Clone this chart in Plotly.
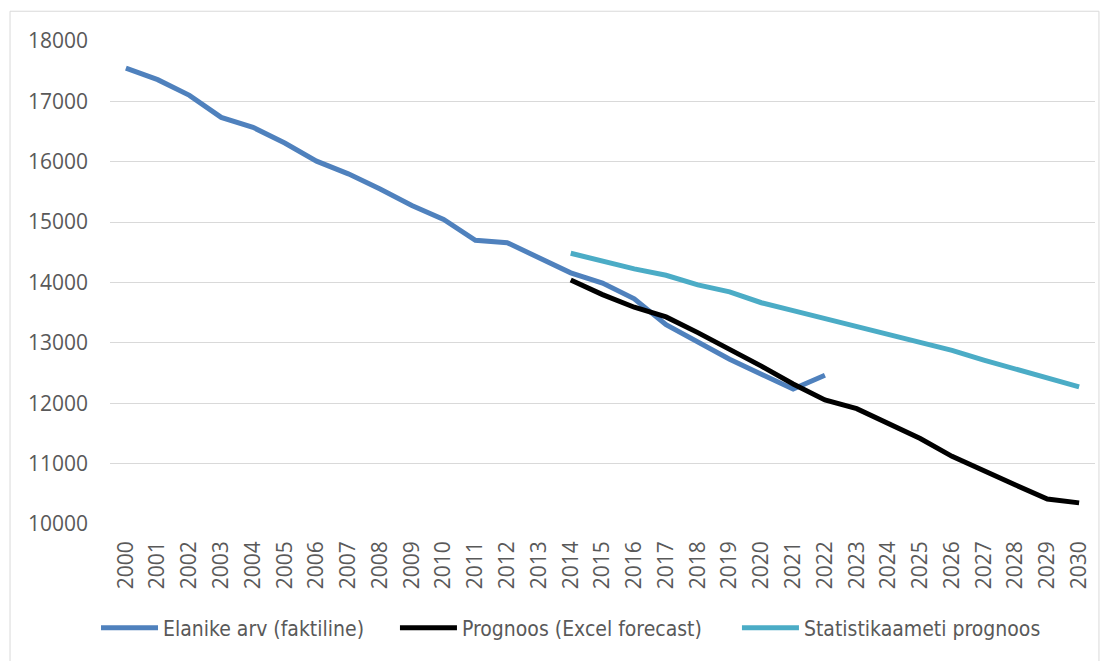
import plotly.graph_objects as go

years = [str(y) for y in range(2000, 2031)]

actual_years = [str(y) for y in range(2000, 2023)]
actual = [17550, 17360, 17100, 16735, 16570, 16310, 16010, 15800, 15550, 15275,
          15045, 14700, 14660, 14400, 14160, 13990, 13730, 13300, 13010, 12730,
          12480, 12235, 12465]

fc_years = [str(y) for y in range(2014, 2031)]
excel_fc = [14040, 13800, 13590, 13430, 13170, 12895, 12615, 12320, 12055, 11910,
            11660, 11415, 11120, 10875, 10645, 10415, 10350]
stat_fc = [14485, 14355, 14225, 14120, 13960, 13845, 13665, 13535, 13400, 13270,
           13140, 12990, 12875, 12715, 12565, 12415, 12270]

names = ["Elanike arv (faktiline)", "Prognoos (Excel forecast)", "Statistikaameti prognoos"]
colors = ["#4f81bd", "#000000", "#4bacc6"]

fig = go.Figure()
fig.add_trace(go.Scatter(x=actual_years, y=actual, mode="lines", name=names[0],
                         legend="legend",
                         line=dict(color=colors[0], width=5)))
fig.add_trace(go.Scatter(x=fc_years, y=excel_fc, mode="lines", name=names[1],
                         legend="legend2",
                         line=dict(color=colors[1], width=5)))
fig.add_trace(go.Scatter(x=fc_years, y=stat_fc, mode="lines", name=names[2],
                         legend="legend3",
                         line=dict(color=colors[2], width=5)))

leg_font = dict(family="DejaVu Sans Condensed, DejaVu Sans, sans-serif", size=21, color="#595959")
def leg(x):
    return dict(orientation="h", x=x, xanchor="left", y=-0.2156, yanchor="middle",
                font=leg_font, itemwidth=57, bgcolor="rgba(0,0,0,0)")

fig.update_layout(
    width=1101, height=653,
    margin=dict(l=102, r=14, t=33, b=133),
    paper_bgcolor="white", plot_bgcolor="white",
    font=dict(family="Open Sans, sans-serif", color="#595959"),
    showlegend=True,
    legend=leg(-0.0142),
    legend2=leg(0.2893),
    legend3=leg(0.6365),
    shapes=[dict(type="rect", xref="paper", yref="paper",
                 x0=-0.1015, x1=1.004, y0=-0.29, y1=1.0616,
                 line=dict(color="#d9d9d9", width=1), fillcolor="rgba(0,0,0,0)")],
)
fig.update_xaxes(type="category", categoryorder="array", categoryarray=years,
                 range=[-0.5, 30.5], tickangle=-90, showgrid=False,
                 showline=False, ticks="", ticklabelstandoff=12,
                 tickfont=dict(family="Open Sans, sans-serif", size=21, color="#595959"))
fig.update_yaxes(range=[10000, 18000], dtick=1000, tickformat="d",
                 showgrid=True, gridcolor="#d9d9d9",
                 gridwidth=1.3, zeroline=False, showline=False, ticks="",
                 ticklabelstandoff=21,
                 tickfont=dict(family="Open Sans, sans-serif", size=21, color="#595959"))

fig.write_html("out.html")
